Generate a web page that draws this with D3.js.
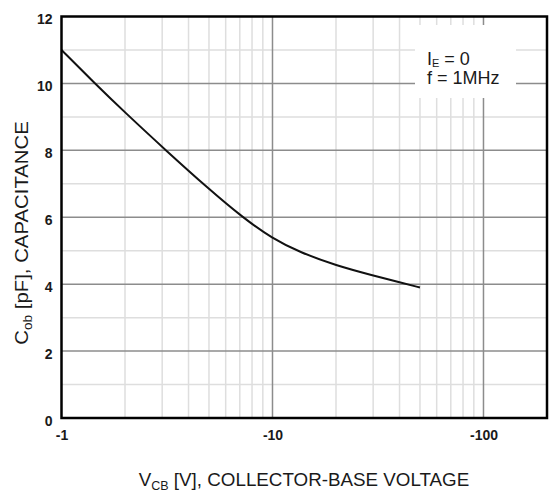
<!DOCTYPE html>
<html>
<head>
<meta charset="utf-8">
<script src="https://cdn.jsdelivr.net/npm/d3@7"></script>
<style>
  body { margin: 0; background: #fff; }
  text { font-family: "Liberation Sans", Arial, sans-serif; fill: #1a1a1a; }
  .tick text { font-size: 14px; font-weight: bold; }
</style>
</head>
<body>
<script>
// Width and height
var w = 550,
    h = 492;

// curve (|Vcb| in volts, Cob in pF)
var vcb = [1, 1.44, 2, 3.16, 5, 7.2, 10, 13.5, 20, 30, 40, 50];
var cob = [11, 10, 9.13, 7.97, 6.84, 6.0, 5.36, 4.95, 4.56, 4.26, 4.06, 3.9];

var xTicks = [1, 10, 100];
var yTicks = [0, 2, 4, 6, 8, 10, 12];
var xMinor = [2, 3, 4, 5, 6, 7, 8, 9, 20, 30, 40, 50, 60, 70, 80, 90];
var yMinor = [1, 3, 5, 7, 9, 11];

var dataset = vcb.map(function(v, i) { return { v: v, c: cob[i] }; });

var xScale = d3.scaleLog()
               .domain([1, 200])
               .range([61.5, 547]);

var yScale = d3.scaleLinear()
               .domain([0, 12])
               .range([418, 16.5]);

var svg = d3.select('body')
            .append('svg')
            .attr('width', w)
            .attr('height', h);

// minor grid
svg.selectAll('.vminor')
   .data(xMinor)
   .enter().append('line')
   .attr('x1', function(d) { return xScale(d); })
   .attr('x2', function(d) { return xScale(d); })
   .attr('y1', yScale(0))
   .attr('y2', yScale(12))
   .attr('stroke', '#dedede')
   .attr('stroke-width', 1.5);

svg.selectAll('.hminor')
   .data(yMinor)
   .enter().append('line')
   .attr('x1', xScale(1))
   .attr('x2', xScale(200))
   .attr('y1', function(d) { return yScale(d); })
   .attr('y2', function(d) { return yScale(d); })
   .attr('stroke', '#dedede')
   .attr('stroke-width', 1.5);

// major grid
svg.selectAll('.vmajor')
   .data(xTicks.slice(1))
   .enter().append('line')
   .attr('x1', function(d) { return xScale(d); })
   .attr('x2', function(d) { return xScale(d); })
   .attr('y1', yScale(0))
   .attr('y2', yScale(12))
   .attr('stroke', '#8c8c8c')
   .attr('stroke-width', 1.5);

svg.selectAll('.hmajor')
   .data(yTicks.slice(1, -1))
   .enter().append('line')
   .attr('x1', xScale(1))
   .attr('x2', xScale(200))
   .attr('y1', function(d) { return yScale(d); })
   .attr('y2', function(d) { return yScale(d); })
   .attr('stroke', '#8c8c8c')
   .attr('stroke-width', 1.5);

// legend box hides the grid behind it
svg.append('rect')
   .attr('x', 415)
   .attr('y', 25)
   .attr('width', 101)
   .attr('height', 73)
   .attr('fill', '#fff');

var legend = svg.append('text')
                .attr('x', 427)
                .attr('y', 65)
                .style('font-size', '18px');
legend.append('tspan').text('I');
legend.append('tspan').attr('dy', 2).style('font-size', '11px').text('E');
legend.append('tspan').attr('dy', -2).text(' = 0');

svg.append('text')
   .attr('x', 427)
   .attr('y', 84)
   .style('font-size', '18px')
   .text('f = 1MHz');

// curve
var line = d3.line()
             .x(function(d) { return xScale(d.v); })
             .y(function(d) { return yScale(d.c); })
             .curve(d3.curveBasis);

svg.append('path')
   .datum(dataset)
   .attr('d', line)
   .attr('fill', 'none')
   .attr('stroke', '#111')
   .attr('stroke-width', 2);

// frame
svg.append('rect')
   .attr('x', xScale(1))
   .attr('y', yScale(12))
   .attr('width', xScale(200) - xScale(1))
   .attr('height', yScale(0) - yScale(12))
   .attr('fill', 'none')
   .attr('stroke', '#000')
   .attr('stroke-width', 2.5);

// axes (labels only)
var yAxis = d3.axisLeft(yScale)
              .tickValues(yTicks)
              .tickSize(0)
              .tickPadding(9)
              .tickFormat(d3.format('d'));

var xAxis = d3.axisBottom(xScale)
              .tickValues(xTicks)
              .tickSize(0)
              .tickPadding(12)
              .tickFormat(function(d) { return '-' + d; });

var gy = svg.append('g')
            .attr('transform', 'translate(' + xScale(1) + ',0)')
            .call(yAxis);
gy.select('.domain').remove();
gy.selectAll('text').attr('dy', '0.5em');

var gx = svg.append('g')
            .attr('transform', 'translate(0,' + yScale(0) + ')')
            .call(xAxis);
gx.select('.domain').remove();

gy.attr('font-family', null).attr('font-size', null);
gx.attr('font-family', null).attr('font-size', null);

// axis titles
var xt = svg.append('text')
            .attr('x', 304)
            .attr('y', 486)
            .attr('text-anchor', 'middle')
            .style('font-size', '18.8px');
xt.append('tspan').text('V');
xt.append('tspan').attr('dy', 4).style('font-size', '12.5px').text('CB');
xt.append('tspan').attr('dy', -4).text(' [V], COLLECTOR-BASE VOLTAGE');

var yt = svg.append('text')
            .attr('transform', 'translate(28,233) rotate(-90) scale(1.1,1)')
            .attr('text-anchor', 'middle')
            .style('font-size', '18.5px');
yt.append('tspan').text('C');
yt.append('tspan').attr('dy', 4).style('font-size', '12.5px').text('ob');
yt.append('tspan').attr('dy', -4).text(' [pF], CAPACITANCE');
</script>
</body>
</html>
